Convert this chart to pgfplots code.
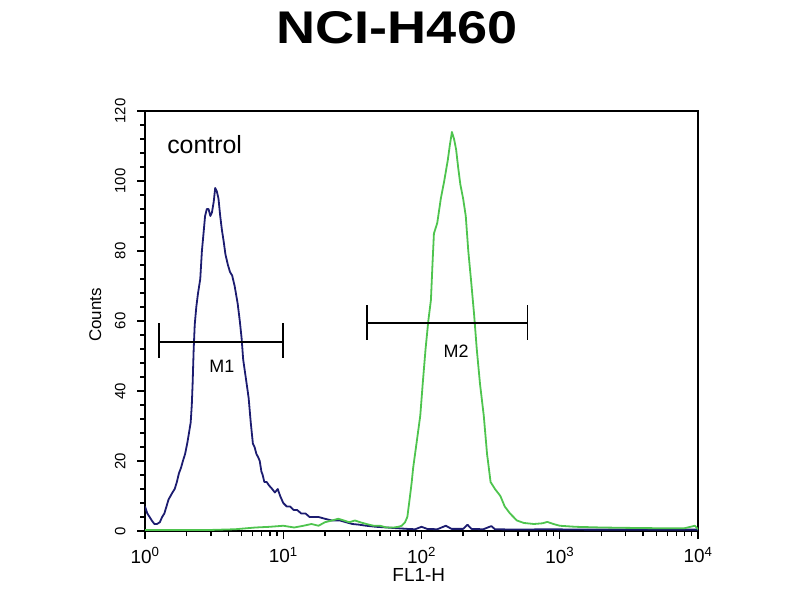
\documentclass[border=0pt]{standalone}
\usepackage{pgfplots}
\pgfplotsset{compat=1.18}
\usepackage{fontspec}
\setmainfont{Liberation Sans}
\definecolor{ctrlblue}{RGB}{28,28,112}
\definecolor{samplegreen}{RGB}{78,196,78}

\begin{document}
\begin{tikzpicture}
\path[use as bounding box] (0,0) rectangle (800bp,600bp);
\node[font=\fontsize{46}{50}\selectfont\bfseries, xscale=1.18, transform shape] at (397bp,572bp) {NCI-H460};
\begin{axis}[
    at={(145bp,69bp)}, anchor=south west,
    scale only axis,
    width=553bp, height=420bp,
    xmode=log, xmin=1, xmax=10000,
    ymin=0, ymax=120,
    xtick={1,10,100,1000,10000},
    xticklabels={10\textsuperscript{0},10\textsuperscript{1},10\textsuperscript{2},10\textsuperscript{3},10\textsuperscript{4}},
    ytick={0,20,...,120},
    minor y tick num=4,
    tick align=outside,
    xtick pos=left, ytick pos=left,
    major tick length=8bp, minor tick length=5bp,
    axis line style={line width=1.6bp},
    every tick/.style={black, line width=1.3bp},
    /pgf/number format/assume math mode=true,
    x tick label style={font=\fontsize{19}{20}\selectfont, yshift=-5bp},
    y tick label style={font=\fontsize{15}{16}\selectfont, rotate=90, anchor=south, yshift=8bp},
    xlabel={FL1-H},
    ylabel={Counts},
    xlabel style={font=\fontsize{19}{20}\selectfont, at={(rel axis cs:0.495,-0.105)}, anchor=center},
    ylabel style={font=\fontsize{17}{18}\selectfont, at={(rel axis cs:-0.090,0.514)}, anchor=center},
    clip=true,
]
% control (blue)
\addplot[ctrlblue, line width=1.8bp, line join=round] coordinates {
    (1.00,7) (1.04,5) (1.08,4) (1.12,3) (1.17,2) (1.22,2) (1.28,2.5) (1.33,4)
    (1.38,5) (1.43,7) (1.48,9) (1.53,10) (1.58,11) (1.64,12) (1.70,14) (1.76,16.5)
    (1.82,18) (1.88,20) (1.95,22) (2.02,25) (2.08,28) (2.14,31) (2.18,36) (2.21,42)
    (2.25,52) (2.29,59) (2.35,64) (2.42,68) (2.51,72) (2.58,80) (2.65,85) (2.72,90)
    (2.80,92) (2.88,92) (2.97,90) (3.05,91) (3.14,94) (3.22,98) (3.31,97) (3.40,95)
    (3.50,90) (3.60,86) (3.70,83) (3.82,79) (3.98,76) (4.12,74) (4.27,73) (4.45,70)
    (4.68,65) (4.85,60) (5.00,55) (5.13,49) (5.35,44) (5.62,38) (5.82,31) (6.03,25)
    (6.20,24) (6.40,22) (6.60,21) (6.76,20) (6.95,17) (7.10,16) (7.30,14) (7.59,14)
    (7.90,13) (8.32,12) (8.70,11) (9.12,12) (9.50,10) (10.0,8) (10.6,7) (11.2,7)
    (11.9,6) (12.6,6) (13.5,5) (14.5,5) (15.5,4) (16.6,4) (18.0,4) (20.0,3.5)
    (22.5,3) (25.7,3) (28.5,2.5) (31.6,2) (35.5,1.8) (39.8,1.5) (47,1.2) (56,1)
    (66,0.8) (79,0.6) (90,0.5) (100,1.2) (110,0.6) (130,0.5) (150,1.5) (165,0.6)
    (200,0.6) (215,1.8) (230,0.6) (280,0.5) (320,1.4) (340,0.5) (500,0.4)
    (800,0.5) (1500,0.4) (3000,0.4) (6000,0.4) (10000,0.4)
};
% sample (green)
\addplot[samplegreen, line width=1.8bp, line join=round] coordinates {
    (1.00,0.3) (2.00,0.3) (3.00,0.3) (4.50,0.5) (5.50,0.8) (6.30,1) (8.00,1.2)
    (10.0,1.5) (12.0,1) (14.0,1.5) (16.0,2) (18.0,1.5) (20.0,2.5) (22.5,3)
    (25.0,3.5) (27.5,3) (30.0,2.5) (33.0,3) (36.0,2.5) (40.0,2) (45.0,1.5) (50.0,1.5)
    (56.0,1) (63.0,1) (68.0,1.2) (72.0,1.5) (76.0,2.5) (79.0,4) (82.0,9) (85.0,14)
    (87.0,18) (92.0,25) (98.0,33) (102,42) (107,52) (112,60) (117,66) (120,76)
    (123,85) (130,88) (138,95) (146,100) (155,106) (160,110) (166,114) (172,112)
    (178,109) (184,104) (191,99) (200,95) (209,90) (218,80) (229,71) (240,62)
    (251,52) (265,42) (282,33) (298,22) (316,14) (340,12) (372,10) (400,7)
    (437,5) (490,3) (550,2.3) (650,2) (750,2.2) (813,2.6) (900,2) (1000,1.5)
    (1300,1.2) (2000,1) (3000,0.9) (5000,0.8) (8000,0.8) (9500,1.5) (10000,0.5)
};
% marker M1
\addplot[black, line width=1.6bp] coordinates {(1.26,54) (10,54)};
\addplot[black, line width=1.6bp] coordinates {(1.26,49.5) (1.26,59.5)};
\addplot[black, line width=1.6bp] coordinates {(10,49.5) (10,59.5)};
% marker M2
\addplot[black, line width=1.6bp] coordinates {(40.5,59.4) (585,59.4)};
\addplot[black, line width=1.6bp] coordinates {(40.5,54.6) (40.5,64.6)};
\addplot[black, line width=1.6bp] coordinates {(585,54.6) (585,64.6)};
\node[font=\fontsize{18}{19}\selectfont] at (axis cs:3.6,47) {M1};
\node[font=\fontsize{18}{19}\selectfont] at (axis cs:178,51.5) {M2};
\node[font=\fontsize{25}{26}\selectfont] at (axis cs:2.7,110.5) {control};
\end{axis}
\end{tikzpicture}
\end{document}
